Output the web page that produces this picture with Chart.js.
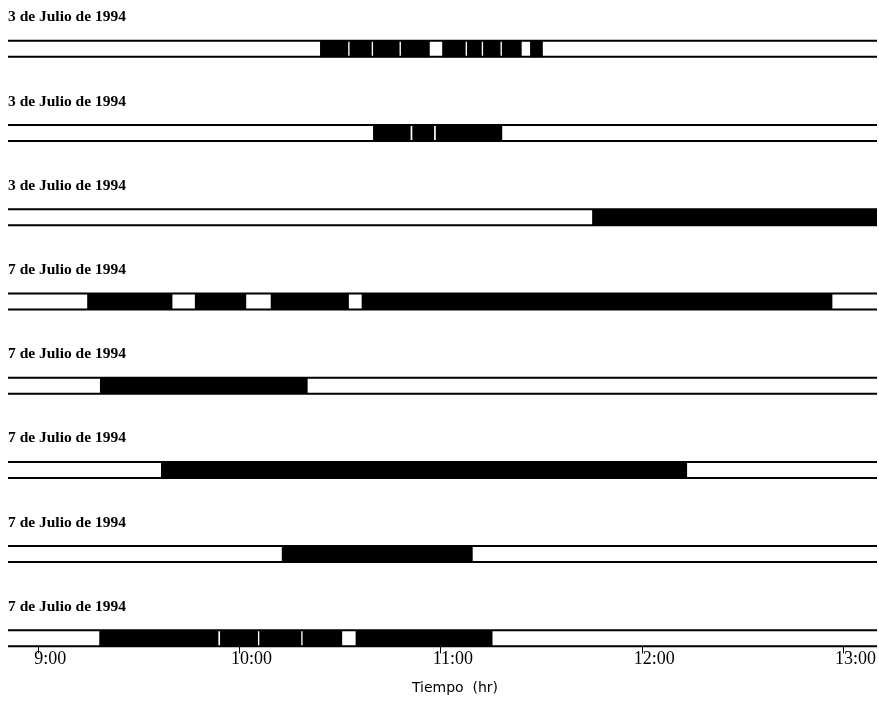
<!DOCTYPE html>
<html>
<head>
<meta charset="utf-8">
<script src="https://cdn.jsdelivr.net/npm/chart.js@4/dist/chart.umd.min.js"></script>
<style>
html,body{margin:0;padding:0;background:#fff;}
canvas{display:block;}
</style>
</head>
<body>
<canvas id="c" width="879" height="707"></canvas>
<script>
// Row titles (top to bottom)
const rowLabels = [
  '3 de Julio de 1994',
  '3 de Julio de 1994',
  '3 de Julio de 1994',
  '7 de Julio de 1994',
  '7 de Julio de 1994',
  '7 de Julio de 1994',
  '7 de Julio de 1994',
  '7 de Julio de 1994'
];
// Black (active) intervals per row, in minutes after 9:00
const row1 = [[84.1,92.3],[92.9,99.3],[99.9,107.6],[108.2,116.6],[120.5,127.3],[127.9,132.1],[132.7,137.7],[138.3,144.0],[146.7,150.3]];
const row2 = [[99.9,110.9],[111.6,117.9],[118.6,138.2]];
const row3 = [[165.2,250]];
const row4 = [[14.7,39.9],[46.8,61.9],[69.4,92.5],[96.5,236.6]];
const row5 = [[18.5,80.2]];
const row6 = [[36.7,193.3]];
const row7 = [[72.7,129.4]];
const row8 = [[18.3,53.6],[54.3,65.4],[66.0,78.3],[78.9,90.5],[94.7,135.3]];
const rows = [row1,row2,row3,row4,row5,row6,row7,row8];
// x axis ticks
const tickValues = [0,60,120,180,240];
const tickLabels = ['9:00','10:00','11:00','12:00','13:00'];
const axisTitle = 'Tiempo  (hr)';

const points = [];
rows.forEach((r, i) => r.forEach(seg => points.push({x: [seg[0], seg[1]], y: i})));

const HALF = 8;
const rowDecor = {
  id: 'rowDecor',
  afterDatasetsDraw(chart) {
    const ctx = chart.ctx;
    const ys = chart.scales.y;
    const a = chart.chartArea;
    ctx.save();
    ctx.strokeStyle = '#000';
    ctx.lineWidth = 2;
    rowLabels.forEach((lab, i) => {
      const cy = ys.getPixelForValue(i);
      ctx.beginPath();
      ctx.moveTo(a.left, cy - HALF);
      ctx.lineTo(a.right, cy - HALF);
      ctx.moveTo(a.left, cy + HALF);
      ctx.lineTo(a.right, cy + HALF);
      ctx.stroke();
      ctx.fillStyle = '#000';
      ctx.font = 'bold 15.5px "Liberation Serif"';
      ctx.textBaseline = 'middle';
      ctx.textAlign = 'left';
      ctx.fillText(lab, a.left, cy - 31.5);
    });
    // axis title
    ctx.font = '14px "DejaVu Sans"';
    ctx.textAlign = 'center';
    ctx.textBaseline = 'middle';
    ctx.fillText(axisTitle, 455, 688);
    ctx.restore();
  }
};

new Chart(document.getElementById('c'), {
  type: 'bar',
  data: {
    datasets: [{
      data: points,
      backgroundColor: '#000',
      borderWidth: 0,
      barThickness: 16,
      grouped: false
    }]
  },
  options: {
    indexAxis: 'y',
    responsive: false,
    animation: false,
    devicePixelRatio: 1,
    layout: {padding: {left: 8, right: 2, top: 5, bottom: 42}},
    plugins: {legend: {display: false}, tooltip: {enabled: false}},
    scales: {
      y: {
        type: 'linear',
        reverse: true,
        offset: false,
        min: -0.521,
        max: 7.096,
        display: false
      },
      x: {
        type: 'linear',
        min: -9,
        max: 250,
        offset: false,
        afterBuildTicks(scale) {
          scale.ticks = tickValues.map(v => ({value: v}));
        },
        border: {display: false},
        grid: {drawOnChartArea: false, drawTicks: true, tickLength: 7, color: '#000', lineWidth: 1},
        ticks: {
          padding: -5,
          labelOffset: 12,
          color: '#000',
          font: {family: '"Liberation Serif"', size: 18},
          maxRotation: 0,
          callback: (v) => {
            const k = tickValues.indexOf(v);
            return k >= 0 ? tickLabels[k] : '';
          }
        },
        title: {display: false}
      }
    }
  },
  plugins: [rowDecor]
});
</script>
</body>
</html>
